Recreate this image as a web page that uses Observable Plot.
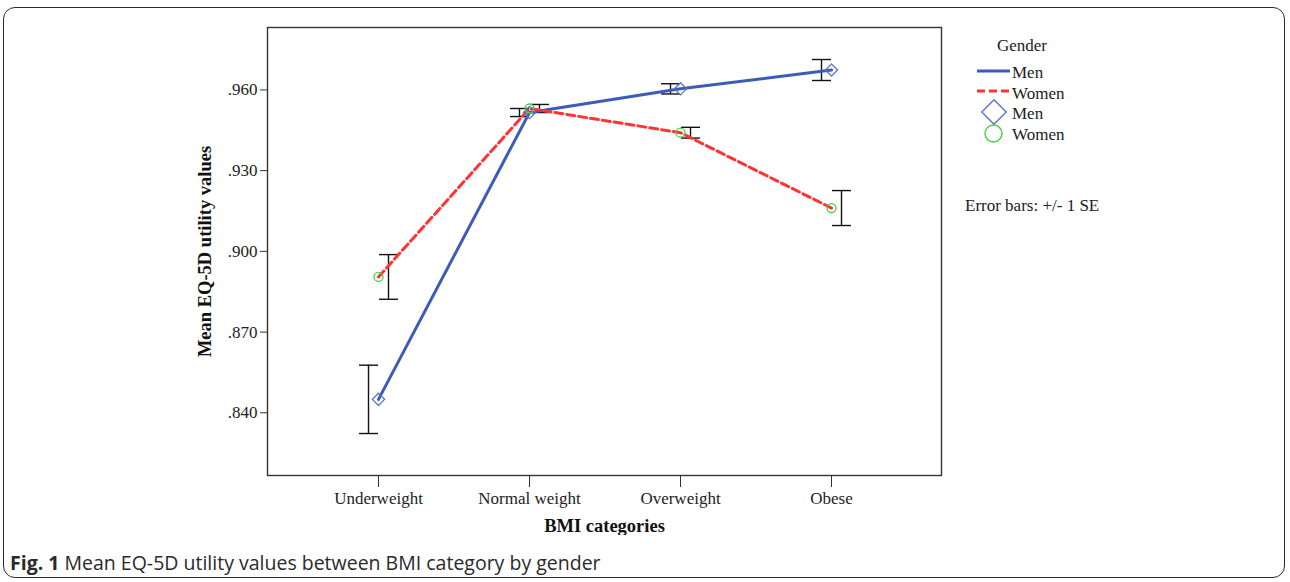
<!DOCTYPE html>
<html>
<head>
<meta charset="utf-8">
<script src="https://cdn.jsdelivr.net/npm/d3@7"></script>
<script src="https://cdn.jsdelivr.net/npm/@observablehq/plot@0.6"></script>
<style>
  html, body { margin: 0; padding: 0; background: #fff; }
  #wrap { position: relative; width: 1290px; height: 582px; overflow: hidden; }
  #border { position: absolute; left: 3px; top: 7px; width: 1282px; height: 571px;
            border: 1.5px solid #2a2a2a; border-radius: 12px; box-sizing: border-box; }
  #chart { position: absolute; left: 0; top: 0; }
  #caption { position: absolute; left: 10px; top: 550px; font-family: "Open Sans", sans-serif;
             font-size: 19.5px; color: #2a2a2a; white-space: nowrap; line-height: 26px; }
  #caption b { font-weight: 700; }
</style>
</head>
<body>
<div id="wrap">
  <div id="border"></div>
  <div id="chart"></div>
  <div id="caption"><b>Fig. 1</b> Mean EQ-5D utility values between BMI category by gender</div>
</div>
<script>
// ---- data ----
const categories = ["Underweight", "Normal weight", "Overweight", "Obese"];
const menMean   = [0.8450, 0.9516, 0.9604, 0.9674];
const menSE     = [0.0127, 0.0015, 0.0019, 0.0039];
const womenMean = [0.8905, 0.9531, 0.9441, 0.9161];
const womenSE   = [0.0083, 0.0015, 0.0020, 0.0065];
const yTicks    = [0.84, 0.87, 0.90, 0.93, 0.96];
const yDomain   = [0.8167, 0.9832];
const seriesNames = ["Men", "Women"];

const men = categories.map((c, i) => ({cat: c, mean: menMean[i], se: menSE[i]}));
const women = categories.map((c, i) => ({cat: c, mean: womenMean[i], se: womenSE[i]}));

const blue = "#3d5bb8", red = "#ff3333", diamondStroke = "#5a72c9", green = "#4ccd4c";
const serif = "'Liberation Serif', 'Times New Roman', serif";

// horizontal cap symbol for error bars
const hline = {
  draw(context, size) {
    const w = Math.sqrt(size / Math.PI);
    context.moveTo(-w, 0);
    context.lineTo(w, 0);
  }
};

function errorBars(data, dx) {
  return [
    Plot.ruleX(data, {x: "cat", y1: d => d.mean - d.se, y2: d => d.mean + d.se, dx, stroke: "#111", strokeWidth: 1.4}),
    Plot.dot(data, {x: "cat", y: d => d.mean + d.se, dx, symbol: hline, r: 9.5, stroke: "#111", strokeWidth: 1.4, fill: "none"}),
    Plot.dot(data, {x: "cat", y: d => d.mean - d.se, dx, symbol: hline, r: 9.5, stroke: "#111", strokeWidth: 1.4, fill: "none"})
  ];
}

const plot = Plot.plot({
  width: 1290,
  height: 535,
  marginLeft: 267,
  marginRight: 349,
  marginTop: 27,
  marginBottom: 60,
  style: {fontFamily: serif, fontSize: "17px", color: "#222", background: "transparent"},
  x: {type: "point", domain: categories, padding: 0.72},
  y: {domain: yDomain},
  marks: [
    Plot.frame({stroke: "#333", strokeWidth: 1.4}),
    Plot.axisY({ticks: yTicks, tickSize: 7, tickPadding: 3, tickFormat: d => d3.format(".3f")(d).replace(/^0/, ""),
                label: null, fontSize: 17, stroke: "#333"}),
    Plot.axisX({tickSize: 12, tickPadding: 4, label: null, fontSize: 17, stroke: "#333"}),
    Plot.text(["Mean EQ-5D utility values"], {frameAnchor: "left", rotate: -90, dx: -62, fontWeight: "bold",
               fontSize: 18.5, textAnchor: "middle", fill: "#111"}),
    Plot.text(["BMI categories"], {frameAnchor: "bottom", dy: 56, fontWeight: "bold", fontSize: 18.5,
               textAnchor: "middle", fill: "#111"}),
    ...errorBars(men, -10),
    ...errorBars(women, 10),
    Plot.line(men, {x: "cat", y: "mean", stroke: blue, strokeWidth: 3}),
    Plot.line(women, {x: "cat", y: "mean", stroke: red, strokeWidth: 3, strokeDasharray: "8,4"}),
    Plot.dot(men, {x: "cat", y: "mean", symbol: "diamond2", r: 5.5, stroke: diamondStroke, strokeWidth: 1.3, fill: "none"}),
    Plot.dot(women, {x: "cat", y: "mean", symbol: "circle", r: 4.5, stroke: green, strokeWidth: 1.3, fill: "none"})
  ]
});

document.getElementById("chart").appendChild(plot);

// ---- legend (drawn into the same svg) ----
const svg = d3.select(plot);
const lg = svg.append("g").attr("font-family", serif).attr("font-size", 17).attr("fill", "#222")
  .attr("text-anchor", "start");
lg.append("text").attr("x", 997).attr("y", 45).attr("dy", "0.35em").text("Gender");
// line samples
lg.append("line").attr("x1", 977).attr("x2", 1010).attr("y1", 71).attr("y2", 71)
  .attr("stroke", blue).attr("stroke-width", 3);
lg.append("text").attr("x", 1012).attr("y", 72).attr("dy", "0.35em").text(seriesNames[0]);
lg.append("line").attr("x1", 977).attr("x2", 1010).attr("y1", 91).attr("y2", 91)
  .attr("stroke", red).attr("stroke-width", 3).attr("stroke-dasharray", "8,4");
lg.append("text").attr("x", 1012).attr("y", 93).attr("dy", "0.35em").text(seriesNames[1]);
// symbol samples
lg.append("path").attr("transform", "translate(994,112)")
  .attr("d", d3.symbol(d3.symbolDiamond2, Math.PI * 11 * 11)())
  .attr("fill", "none").attr("stroke", diamondStroke).attr("stroke-width", 1.4);
lg.append("text").attr("x", 1012).attr("y", 113).attr("dy", "0.35em").text(seriesNames[0]);
lg.append("circle").attr("cx", 993.5).attr("cy", 133.5).attr("r", 8.5)
  .attr("fill", "none").attr("stroke", green).attr("stroke-width", 1.4);
lg.append("text").attr("x", 1012).attr("y", 134).attr("dy", "0.35em").text(seriesNames[1]);
lg.append("text").attr("x", 965).attr("y", 205).attr("dy", "0.35em").text("Error bars: +/- 1 SE");
</script>
</body>
</html>
